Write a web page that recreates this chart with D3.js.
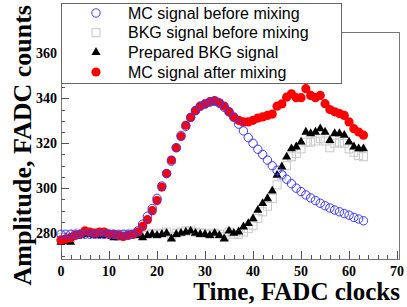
<!DOCTYPE html>
<html>
<head>
<meta charset="utf-8">
<script src="https://cdn.jsdelivr.net/npm/d3@7"></script>
<style>
  body { margin: 0; background: #fff; }
  svg { display: block; }
</style>
</head>
<body>
<div id="chart"></div>
<script>
var width = 407, height = 307;

// FADC clock index, one sample per clock
var clocks = d3.range(64);

var mcBefore = [279.5,279.5,279.5,279.5,279.5,279.5,279.5,279.5,279.5,279.5,279.5,279.5,279.5,279.5,279.5,279.5,
  281,284,287.5,291,295.5,301,306.5,312,318,323.5,327.5,331.5,334.5,336.5,337.5,338.3,
  338.6,337.8,336,334,331.5,328.5,325.5,322.5,320,317.3,315,312.5,310,308,306,304,
  302,300,298.5,297,295.7,294.5,293.3,292.2,291.2,290.3,289.5,288.7,288,287,286.3,285.5];

var bkgBefore = [278,278.5,278,280,280,280.5,280,280,279.5,279.5,280,279,279,279.5,279.5,280,
  279.5,279,279.5,280,279.5,280,280.5,278.5,280,280.5,281,281,280.5,280,280,279.5,
  280,279.5,278.5,280.5,279.5,279.5,280.5,282,283.5,286.5,289.5,292,295.5,301.5,305.5,310,
  314,315.5,317.5,320.5,320.5,321,322,321,318,320,320.5,320,317.5,316,314.5,314];

var bkgPrepared = [276,276.5,276,279,279,279.5,279.5,279,279,279,279.5,278,278,278.5,279,279,
  279,278,279,279.5,279,279.5,280,277.5,279.5,280,280.5,281,280,279.5,279.5,279,
  280,279,277.5,281,280,280.6,282.8,284.3,286.5,290.2,293.2,295.4,298.8,305.8,309.5,313.9,
  317.6,318.4,320.6,325,324.3,325,326.5,325,321.3,324.3,324.3,323.6,320.6,318.4,317.6,317.6];

var mcAfter = [277,277.5,278,279,279.5,281,280.5,280,280.5,280.5,279.5,279.5,279,278.5,279,279.5,
  280.5,283,286,290,294.5,300.5,306.5,312.5,318,323,328,331.5,334.5,336.5,337.5,338.5,
  339,338,336.5,334,331.7,330.2,329.5,329.5,330.2,331.2,331.7,332.4,333,336.5,337.5,340.5,
  342,340.3,340.3,344.3,341.3,340.3,341.3,337.6,335,334,333.2,332.4,329.5,326.5,325,323.6];

var legendLabels = ["MC signal before mixing", "BKG signal before mixing",
  "Prepared BKG signal", "MC signal after mixing"];

var xTicks = [0, 10, 20, 30, 40, 50, 60, 70];
var yTicks = [280, 300, 320, 340, 360];

var margin = {top: 32, right: 8, bottom: 48, left: 61};

var svg = d3.select("#chart").append("svg")
  .attr("width", width)
  .attr("height", height);

var x = d3.scaleLinear().domain([0, 70.4]).range([margin.left, width - margin.right]);
var y = d3.scaleLinear().domain([268.5, 369.5]).range([height - margin.bottom, margin.top]);

var plot = svg.append("g");

// frame
plot.append("rect")
  .attr("x", x(0) + 0.5)
  .attr("y", y(369.5) + 0.5)
  .attr("width", x(70.4) - x(0))
  .attr("height", y(268.5) - y(369.5))
  .attr("fill", "none")
  .attr("stroke", "#777")
  .attr("stroke-width", 1);

// ticks (inside, ROOT style)
var xMinor = d3.range(0, 71, 2);
plot.append("g").selectAll("line")
  .data(xMinor)
  .enter().append("line")
  .attr("x1", d => Math.round(x(d)) + 0.5)
  .attr("x2", d => Math.round(x(d)) + 0.5)
  .attr("y1", y(268.5))
  .attr("y2", d => y(268.5) - (d % 10 === 0 ? 8 : 4))
  .attr("stroke", "#555");

var yMinor = d3.range(270, 370, 5);
plot.append("g").selectAll("line")
  .data(yMinor)
  .enter().append("line")
  .attr("y1", d => Math.round(y(d)) + 0.5)
  .attr("y2", d => Math.round(y(d)) + 0.5)
  .attr("x1", x(0))
  .attr("x2", d => x(0) + (d % 20 === 0 ? 8 : 4))
  .attr("stroke", "#555");

// tick labels
svg.append("g").selectAll("text")
  .data(xTicks)
  .enter().append("text")
  .attr("x", d => x(d))
  .attr("y", y(268.5) + 17)
  .attr("text-anchor", "middle")
  .attr("font-family", "Liberation Serif, Times New Roman, serif")
  .attr("font-weight", "bold")
  .attr("font-size", 14)
  .text(d => d);

svg.append("g").selectAll("text")
  .data(yTicks)
  .enter().append("text")
  .attr("x", x(0) - 4)
  .attr("y", d => y(d) + 5)
  .attr("text-anchor", "end")
  .attr("font-family", "Liberation Serif, Times New Roman, serif")
  .attr("font-weight", "bold")
  .attr("font-size", 14)
  .text(d => d);

// axis titles
svg.append("text")
  .attr("x", 400)
  .attr("y", 300)
  .attr("text-anchor", "end")
  .attr("font-family", "Liberation Serif, Times New Roman, serif")
  .attr("font-weight", "bold")
  .attr("font-size", 25)
  .text("Time, FADC clocks");

svg.append("text")
  .attr("transform", "translate(31,5) rotate(-90)")
  .attr("text-anchor", "end")
  .attr("font-family", "Liberation Serif, Times New Roman, serif")
  .attr("font-weight", "bold")
  .attr("font-size", 26)
  .text("Amplitude, FADC counts");

// markers
var tri = d3.symbol().type(d3.symbolTriangle).size(36);

plot.append("g").selectAll("rect")
  .data(clocks)
  .enter().append("rect")
  .attr("x", d => x(d) - 4)
  .attr("y", (d, i) => y(bkgBefore[i]) - 4)
  .attr("width", 8)
  .attr("height", 8)
  .attr("fill", "none")
  .attr("stroke", "#c8c8c8");

plot.append("g").selectAll("path")
  .data(clocks)
  .enter().append("path")
  .attr("d", tri)
  .attr("transform", (d, i) => "translate(" + x(d) + "," + y(bkgPrepared[i]) + ")")
  .attr("fill", "#000");

plot.append("g").selectAll("circle")
  .data(clocks)
  .enter().append("circle")
  .attr("cx", d => x(d))
  .attr("cy", (d, i) => y(mcAfter[i]))
  .attr("r", 4.6)
  .attr("fill", "#ff0000");

plot.append("g").selectAll("circle")
  .data(clocks)
  .enter().append("circle")
  .attr("cx", d => x(d))
  .attr("cy", (d, i) => y(mcBefore[i]))
  .attr("r", 4.2)
  .attr("fill", "none")
  .attr("stroke", "#3a3aff")
  .attr("stroke-width", 1);

// legend
var legend = svg.append("g");
legend.append("rect")
  .attr("x", 61.5).attr("y", 3.5)
  .attr("width", 280).attr("height", 80)
  .attr("fill", "#fff")
  .attr("stroke", "#666");

var rowY = d3.scalePoint().domain(d3.range(4)).range([13, 72]);

legendLabels.forEach(function(label, i) {
  var cy = rowY(i), cx = 96;
  if (i === 0) {
    legend.append("circle").attr("cx", cx).attr("cy", cy).attr("r", 4.2)
      .attr("fill", "none").attr("stroke", "#3a3aff");
  } else if (i === 1) {
    legend.append("rect").attr("x", cx - 4).attr("y", cy - 4).attr("width", 8).attr("height", 8)
      .attr("fill", "none").attr("stroke", "#c8c8c8");
  } else if (i === 2) {
    legend.append("path").attr("d", tri).attr("transform", "translate(" + cx + "," + cy + ")");
  } else {
    legend.append("circle").attr("cx", cx).attr("cy", cy).attr("r", 4.6).attr("fill", "#ff0000");
  }
  legend.append("text")
    .attr("x", 128)
    .attr("y", cy + 5.5)
    .attr("font-family", "Liberation Sans, Arial, sans-serif")
    .attr("font-size", 16)
    .text(label);
});
</script>
</body>
</html>
